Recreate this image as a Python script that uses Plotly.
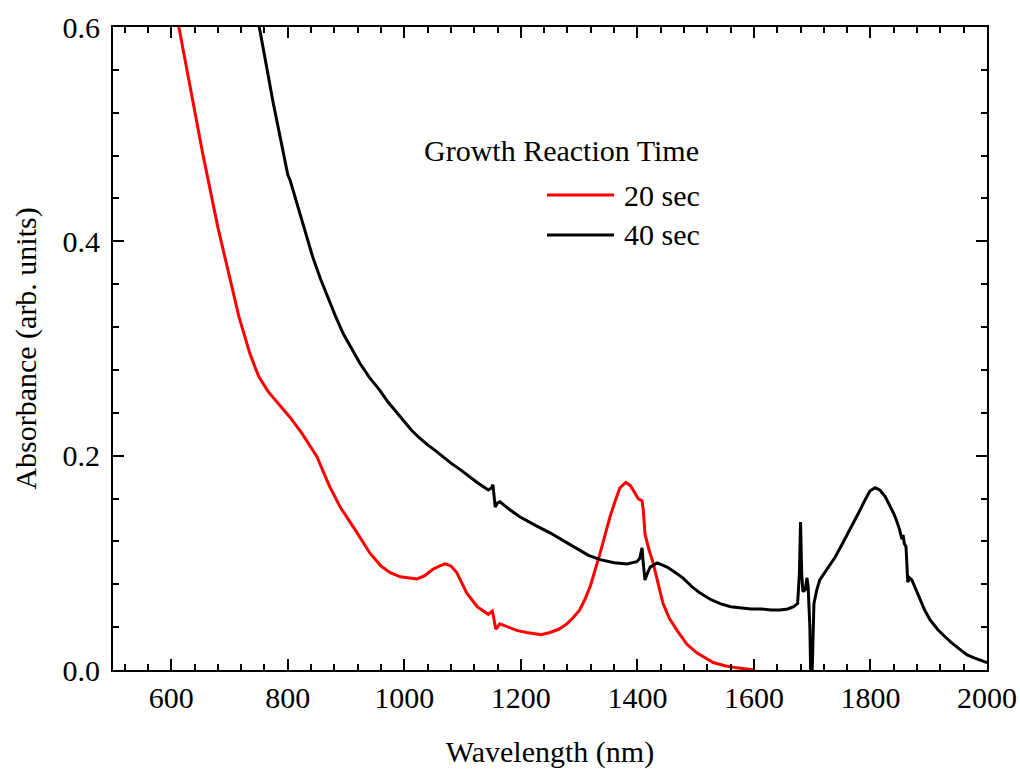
import plotly.graph_objects as go

# 20 sec growth reaction time
wl_20 = [605, 613, 637, 654, 680, 700, 716, 735, 750, 766, 790, 805, 824, 840, 850, 872, 890,
         919, 941, 960, 975, 993, 1010, 1022, 1035, 1049, 1060, 1070, 1080, 1090, 1107, 1116,
         1125, 1144, 1151, 1153, 1157, 1164, 1180, 1193, 1210, 1221, 1235, 1250, 1265, 1279,
         1290, 1301, 1310, 1319, 1328, 1336, 1345, 1353, 1362, 1370, 1380, 1388, 1396, 1401,
         1404, 1408, 1410, 1413, 1420, 1427, 1435, 1444, 1455, 1468, 1485, 1502, 1530, 1550,
         1571, 1600]
abs_20 = [0.623, 0.600, 0.532, 0.482, 0.413, 0.368, 0.330, 0.295, 0.274, 0.260, 0.245, 0.235,
          0.221, 0.207, 0.199, 0.171, 0.152, 0.128, 0.109, 0.097, 0.091, 0.087, 0.086, 0.085,
          0.088, 0.094, 0.097, 0.099, 0.097, 0.091, 0.072, 0.066, 0.059, 0.052, 0.055, 0.050,
          0.038, 0.043, 0.040, 0.037, 0.035, 0.034, 0.033, 0.035, 0.038, 0.043, 0.049, 0.056,
          0.066, 0.078, 0.094, 0.109, 0.127, 0.143, 0.158, 0.170, 0.175, 0.172, 0.165, 0.160,
          0.159, 0.158, 0.150, 0.127, 0.112, 0.100, 0.082, 0.062, 0.048, 0.037, 0.024, 0.016,
          0.007, 0.004, 0.002, 0.000]

# 40 sec growth reaction time
wl_40 = [745, 751, 763, 775, 787, 799, 800, 804, 814, 824, 833, 843, 856, 869, 882, 895, 910,
         924, 940, 958, 972, 987, 1000, 1012, 1025, 1040, 1055, 1066, 1080, 1096, 1110, 1125,
         1144, 1150, 1152, 1154, 1156, 1160, 1164, 1180, 1198, 1225, 1250, 1275, 1296, 1316,
         1336, 1360, 1382, 1399, 1404, 1408, 1410, 1413, 1417, 1422, 1434, 1451, 1465, 1478,
         1495, 1507, 1525, 1542, 1560, 1576, 1595, 1611, 1630, 1645, 1658, 1668, 1675, 1678,
         1680, 1682, 1684, 1688, 1691, 1693, 1696, 1698, 1700, 1703, 1708, 1713, 1725, 1739,
         1752, 1765, 1780, 1791, 1799, 1808, 1816, 1825, 1833, 1840, 1845, 1850, 1854, 1856,
         1858, 1861, 1864, 1867, 1871, 1878, 1885, 1893, 1902, 1915, 1928, 1940, 1954, 1966,
         1979, 2000]
abs_40 = [0.618, 0.600, 0.563, 0.529, 0.497, 0.467, 0.462, 0.457, 0.438, 0.420, 0.402, 0.385,
          0.365, 0.347, 0.330, 0.314, 0.299, 0.286, 0.273, 0.261, 0.250, 0.240, 0.231, 0.224,
          0.217, 0.210, 0.204, 0.199, 0.193, 0.187, 0.181, 0.175, 0.168, 0.170, 0.173, 0.165,
          0.152, 0.156, 0.157, 0.150, 0.143, 0.135, 0.128, 0.120, 0.113, 0.107, 0.103, 0.100,
          0.099, 0.101, 0.104, 0.114, 0.100, 0.084, 0.090, 0.096, 0.100, 0.096, 0.091, 0.086,
          0.077, 0.072, 0.066, 0.062, 0.059, 0.058, 0.057, 0.057, 0.056, 0.056, 0.057, 0.059,
          0.062, 0.090, 0.138, 0.090, 0.073, 0.075, 0.086, 0.078, 0.040, -0.020, 0.000, 0.062,
          0.075, 0.084, 0.094, 0.105, 0.118, 0.131, 0.147, 0.159, 0.167, 0.170, 0.168, 0.162,
          0.154, 0.146, 0.139, 0.131, 0.122, 0.126, 0.118, 0.115, 0.082, 0.086, 0.084, 0.075,
          0.065, 0.056, 0.047, 0.038, 0.031, 0.025, 0.019, 0.014, 0.011, 0.007]

series_names = ["20 sec", "40 sec"]
series_colors = ["#ff0000", "#000000"]
legend_title = "Growth Reaction Time"

x_ticks = [600, 800, 1000, 1200, 1400, 1600, 1800, 2000]
y_ticks = [0.0, 0.2, 0.4, 0.6]
y_tick_labels = ["0.0", "0.2", "0.4", "0.6"]

FONT = "Liberation Serif"

fig = go.Figure()
for wl, ab, name, col in [(wl_20, abs_20, series_names[0], series_colors[0]),
                          (wl_40, abs_40, series_names[1], series_colors[1])]:
    fig.add_trace(go.Scatter(x=wl, y=ab, mode="lines", name=name,
                             line=dict(color=col, width=3), showlegend=False))

axis_common = dict(
    showline=True, linewidth=2, linecolor="black", mirror="allticks",
    ticks="inside", ticklen=11, tickwidth=2, tickcolor="black",
    showgrid=False, zeroline=False, automargin=False,
    tickfont=dict(family=FONT, size=30, color="black"),
)

fig.update_xaxes(
    range=[500, 2000], tickvals=x_ticks,
    minor=dict(dtick=40, tick0=0, ticks="inside", ticklen=6, tickwidth=2, tickcolor="black", showgrid=False),
    title=dict(text="Wavelength (nm)", font=dict(family=FONT, size=30, color="black"), standoff=28),
    **axis_common,
)
fig.update_yaxes(
    range=[0, 0.6], tickvals=y_ticks, ticktext=y_tick_labels, ticklabelstandoff=5,
    minor=dict(dtick=0.04, tick0=0, ticks="inside", ticklen=6, tickwidth=2, tickcolor="black", showgrid=False),
    title=dict(text="Absorbance (arb. units)", font=dict(family=FONT, size=30, color="black"), standoff=17),
    **axis_common,
)

# Legend drawn manually (long line samples like the original)
def px_x(p):
    return (p - 113) / 874.0

def px_y(p):
    return (670 - p) / 643.0

fig.add_annotation(xref="paper", yref="paper", x=px_x(561), y=px_y(150), text=legend_title,
                   showarrow=False, xanchor="center", yanchor="middle",
                   font=dict(family=FONT, size=30, color="black"))
for i, (name, col) in enumerate(zip(series_names, series_colors)):
    yy = px_y(195 + 40 * i)
    fig.add_shape(type="line", xref="paper", yref="paper", x0=px_x(547), x1=px_x(614),
                  y0=yy, y1=yy, line=dict(color=col, width=3))
    fig.add_annotation(xref="paper", yref="paper", x=px_x(622), y=yy, text=name,
                       showarrow=False, xanchor="left", yanchor="middle",
                       font=dict(family=FONT, size=30, color="black"))

fig.update_layout(
    width=1020, height=769,
    margin=dict(l=113, r=33, t=27, b=99),
    paper_bgcolor="white", plot_bgcolor="white",
    showlegend=False,
)

fig.write_html("out.html", config={"displayModeBar": False},
               post_script="document.body.style.margin='0';document.body.style.overflow='hidden';")
